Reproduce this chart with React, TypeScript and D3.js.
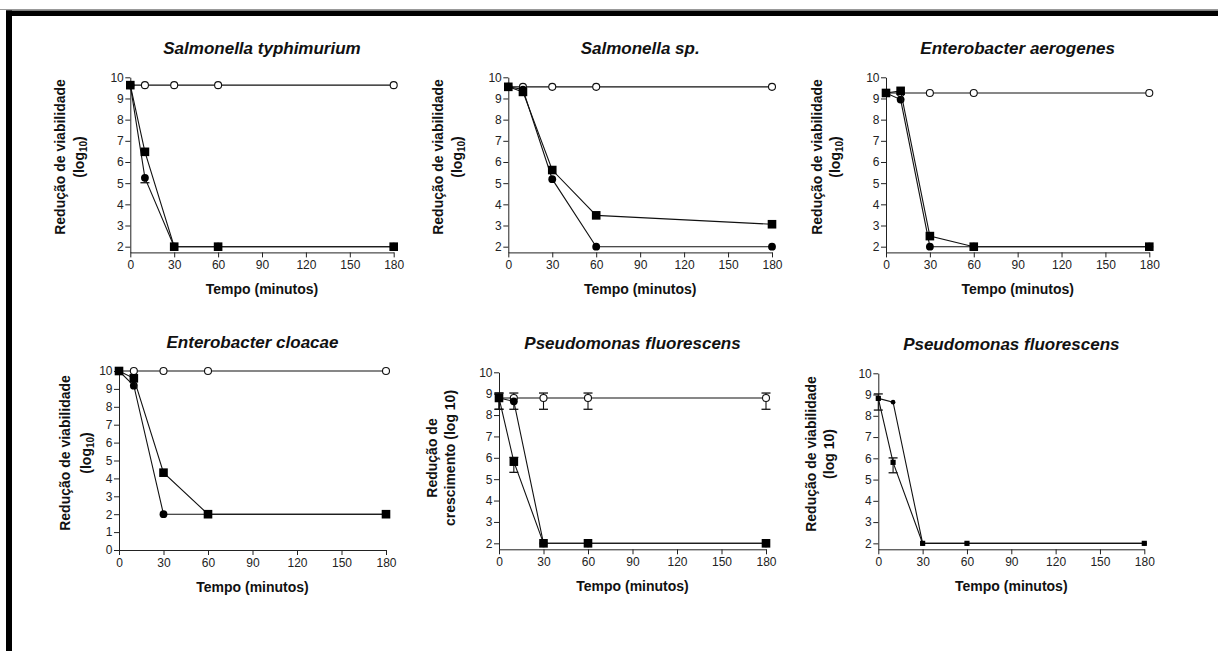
import React, { useRef, useEffect } from 'react';
import * as d3 from 'd3';

const times = [0, 10, 30, 60, 180];
const xTicks = [0, 30, 60, 90, 120, 150, 180];
const yTicks2to10 = [2, 3, 4, 5, 6, 7, 8, 9, 10];
const yTicks0to10 = [0, 1, 2, 3, 4, 5, 6, 7, 8, 9, 10];

const titles = [
    'Salmonella typhimurium',
    'Salmonella sp.',
    'Enterobacter aerogenes',
    'Enterobacter cloacae',
    'Pseudomonas fluorescens',
    'Pseudomonas fluorescens',
];

// Salmonella typhimurium
const typhiControl = [9.63, 9.63, 9.63, 9.63, 9.63];
const typhiCircle = [9.63, 5.25, 2, 2, 2];
const typhiCircleLo = [null, 5.02, null, null, null];
const typhiSquare = [9.63, 6.48, 2, 2, 2];

// Salmonella sp.
const salmControl = [9.55, 9.55, 9.55, 9.55, 9.55];
const salmCircle = [9.55, 9.42, 5.19, 2, 2];
const salmSquare = [9.55, 9.31, 5.62, 3.48, 3.06];

// Enterobacter aerogenes
const aeroControl = [9.26, 9.26, 9.26, 9.26, 9.26];
const aeroCircle = [9.26, 8.95, 2, 2, 2];
const aeroSquare = [9.26, 9.36, 2.5, 2, 2];

// Enterobacter cloacae
const cloacControl = [10, 10, 10, 10, 10];
const cloacCircle = [10, 9.18, 2, 2, 2];
const cloacSquare = [10, 9.59, 4.32, 2, 2];

// Pseudomonas fluorescens (crescimento)
const pseudoControl = [8.8, 8.8, 8.8, 8.8, 8.8];
const pseudoControlLo = [8.27, 8.27, 8.27, 8.27, 8.27];
const pseudoControlHi = [9.03, 9.03, 9.03, 9.03, 9.03];
const pseudoCircle = [8.8, 8.64, 2, 2, 2];
const pseudoSquare = [8.8, 5.82, 2, 2, 2];
const pseudoSquareLo = [8.27, 5.32, null, null, null];
const pseudoSquareHi = [9.03, 6.02, null, null, null];

// Pseudomonas fluorescens (viabilidade)
const pseudo2Circle = [8.82, 8.64, 2, 2, 2];
const pseudo2Square = [8.82, 5.81, 2, 2, 2];
const pseudo2SquareLo = [8.27, 5.32, null, null, null];
const pseudo2SquareHi = [9.03, 6.02, null, null, null];

type Series = {
    values: number[];
    marker: 'open' | 'circle' | 'square';
    lo?: (number | null)[];
    hi?: (number | null)[];
};

const panelSeries: Series[][] = [
    [
        { values: typhiControl, marker: 'open' },
        { values: typhiCircle, marker: 'circle', lo: typhiCircleLo },
        { values: typhiSquare, marker: 'square' },
    ],
    [
        { values: salmControl, marker: 'open' },
        { values: salmCircle, marker: 'circle' },
        { values: salmSquare, marker: 'square' },
    ],
    [
        { values: aeroControl, marker: 'open' },
        { values: aeroCircle, marker: 'circle' },
        { values: aeroSquare, marker: 'square' },
    ],
    [
        { values: cloacControl, marker: 'open' },
        { values: cloacCircle, marker: 'circle' },
        { values: cloacSquare, marker: 'square' },
    ],
    [
        { values: pseudoControl, marker: 'open', lo: pseudoControlLo, hi: pseudoControlHi },
        { values: pseudoCircle, marker: 'circle' },
        { values: pseudoSquare, marker: 'square', lo: pseudoSquareLo, hi: pseudoSquareHi },
    ],
    [
        { values: pseudo2Circle, marker: 'circle' },
        { values: pseudo2Square, marker: 'square', lo: pseudo2SquareLo, hi: pseudo2SquareHi },
    ],
];

const yLabels = [
    ['Redução de viabilidade', 'sub'],
    ['Redução de viabilidade', 'sub'],
    ['Redução de viabilidade', 'sub'],
    ['Redução de viabilidade', 'sub'],
    ['Redução de', 'crescimento (log 10)'],
    ['Redução de viabilidade', '(log 10)'],
];

// plot geometry (pixels)
const LAYOUT = [
    { left: 130.3, right: 393.7, top: 77.3, bottom: 252.4, yMin: 1.73, ticks: yTicks2to10, lab1: 60, lab2: 79, labY: 157, marker: 1 },
    { left: 508.3, right: 772, top: 77.3, bottom: 252.4, yMin: 1.73, ticks: yTicks2to10, lab1: 437.7, lab2: 456.7, labY: 157, marker: 1 },
    { left: 886, right: 1149.3, top: 77.3, bottom: 252.4, yMin: 1.73, ticks: yTicks2to10, lab1: 816.7, lab2: 835, labY: 157, marker: 1 },
    { left: 119, right: 386, top: 371, bottom: 550, yMin: 0, ticks: yTicks0to10, lab1: 65, lab2: 86, labY: 453, marker: 1 },
    { left: 499, right: 766, top: 372.3, bottom: 549.3, yMin: 1.72, ticks: yTicks2to10, lab1: 432.3, lab2: 450, labY: 458, marker: 1 },
    { left: 878.3, right: 1144.3, top: 373.3, bottom: 549.3, yMin: 1.72, ticks: yTicks2to10, lab1: 810.7, lab2: 829.3, labY: 454, marker: 0.6 },
];

const FONT = 'Arial, "Liberation Sans", sans-serif';
const INK = '#111';

export default function App() {
    const ref = useRef<SVGSVGElement>(null);

    useEffect(() => {
        if (!ref.current) return;
        const svg = d3.select(ref.current);
        svg.selectAll('*').remove();

        // frame
        svg.append('rect').attr('x', 0).attr('y', 9).attr('width', 1218).attr('height', 1).attr('fill', '#999');
        svg.append('rect').attr('x', 6).attr('y', 10.5).attr('width', 1212).attr('height', 5.5).attr('fill', '#000');
        svg.append('rect').attr('x', 6).attr('y', 10.5).attr('width', 6).attr('height', 641).attr('fill', '#000');

        LAYOUT.forEach((L, i) => {
            const g = svg.append('g');
            const x = d3.scaleLinear().domain([0, 180]).range([L.left, L.right]);
            const y = d3.scaleLinear().domain([L.yMin, 10]).range([L.bottom, L.top]);

            const xAxis = g.append('g')
                .attr('transform', `translate(0,${L.bottom})`)
                .call(d3.axisBottom(x).tickValues(xTicks).tickSize(5).tickPadding(3).tickSizeOuter(0));
            const yAxis = g.append('g')
                .attr('transform', `translate(${L.left},0)`)
                .call(d3.axisLeft(y).tickValues(L.ticks).tickSize(5).tickPadding(1.5).tickSizeOuter(0));
            [xAxis, yAxis].forEach(ax => {
                ax.selectAll('text').style('fill', '#222').style('font-family', FONT).style('font-size', '12px');
                ax.selectAll('line').style('stroke', '#222');
                ax.select('.domain').style('stroke', '#222');
            });

            // title
            g.append('text')
                .attr('x', (L.left + L.right) / 2)
                .attr('y', L.top - 23.3)
                .attr('text-anchor', 'middle')
                .style('font-family', FONT).style('font-weight', 'bold').style('font-style', 'italic')
                .style('font-size', '17px').style('fill', INK)
                .text(titles[i]);

            // x label
            g.append('text')
                .attr('x', (L.left + L.right) / 2)
                .attr('y', L.bottom + 41.6)
                .attr('text-anchor', 'middle')
                .style('font-family', FONT).style('font-weight', 'bold')
                .style('font-size', '14px').style('fill', INK)
                .text('Tempo (minutos)');

            // y label (two lines)
            const [l1, l2] = yLabels[i];
            const t1 = g.append('text')
                .attr('transform', `translate(${L.lab1},${L.labY}) rotate(-90)`)
                .attr('text-anchor', 'middle').attr('dy', '0.36em')
                .style('font-family', FONT).style('font-weight', 'bold')
                .style('font-size', '14px').style('fill', INK);
            t1.text(l1);
            const t2 = g.append('text')
                .attr('transform', `translate(${L.lab2},${L.labY}) rotate(-90)`)
                .attr('text-anchor', 'middle').attr('dy', '0.36em')
                .style('font-family', FONT).style('font-weight', 'bold')
                .style('font-size', '14px').style('fill', INK);
            if (l2 === 'sub') {
                t2.append('tspan').text('(log');
                t2.append('tspan').attr('dy', 3).style('font-size', '10px').text('10');
                t2.append('tspan').attr('dy', -3).text(')');
            } else {
                t2.text(l2);
            }

            const line = d3.line<number>().x((_, k) => x(times[k])).y(v => y(v));
            const s = L.marker;

            panelSeries[i].forEach(ser => {
                g.append('path')
                    .attr('d', line(ser.values) as string)
                    .attr('fill', 'none').attr('stroke', INK).attr('stroke-width', 1.1);

                // error bars
                ser.values.forEach((v, k) => {
                    const cx = x(times[k]);
                    const ends = [ser.lo ? ser.lo[k] : null, ser.hi ? ser.hi[k] : null];
                    ends.forEach(e => {
                        if (e == null) return;
                        g.append('line').attr('x1', cx).attr('x2', cx).attr('y1', y(v)).attr('y2', y(e))
                            .attr('stroke', INK).attr('stroke-width', 1.1);
                        g.append('line').attr('x1', cx - 4.5).attr('x2', cx + 4.5).attr('y1', y(e)).attr('y2', y(e))
                            .attr('stroke', INK).attr('stroke-width', 1.3);
                    });
                });

                ser.values.forEach((v, k) => {
                    const cx = x(times[k]);
                    const cy = y(v);
                    if (ser.marker === 'square') {
                        const h = 4.3 * s;
                        g.append('rect').attr('x', cx - h).attr('y', cy - h).attr('width', 2 * h).attr('height', 2 * h)
                            .attr('fill', '#000');
                    } else if (ser.marker === 'circle') {
                        g.append('circle').attr('cx', cx).attr('cy', cy).attr('r', 3.9 * s).attr('fill', '#000');
                    } else {
                        g.append('circle').attr('cx', cx).attr('cy', cy).attr('r', 3.5)
                            .attr('fill', '#fff').attr('stroke', INK).attr('stroke-width', 1.1);
                    }
                });
            });
        });
    }, []);

    return (
        <div style={{ position: 'absolute', left: 0, top: 0, width: 1218, height: 651, background: '#fff' }}>
            <svg ref={ref} width={1218} height={651}></svg>
        </div>
    );
}
